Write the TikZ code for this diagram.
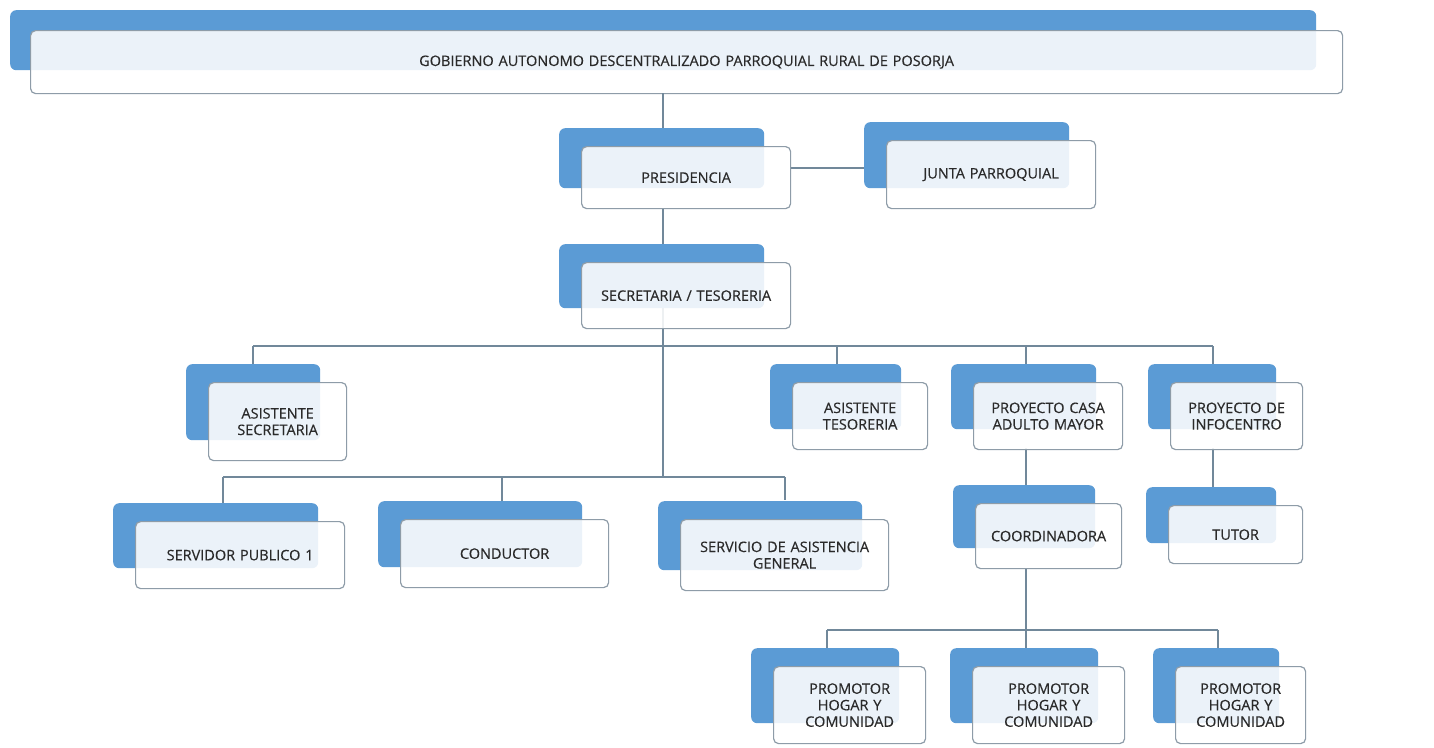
\documentclass[tikz,border=0pt]{standalone}
\usepackage{fontspec}
\setmainfont{Open Sans}
\newfontfamily\boxfont[FakeBold=0.35]{Open Sans}
\definecolor{boxblue}{HTML}{5B9BD5}
\definecolor{boxedge}{HTML}{8E9CA8}
\definecolor{linkcol}{HTML}{71889A}
\definecolor{txtcol}{HTML}{2A2A2A}
\tikzset{
  backbox/.style={fill=boxblue, draw=none, rounded corners=6pt, inner sep=0pt, anchor=north west},
  frontbox/.style={fill=white, fill opacity=0.88, text opacity=1, draw=boxedge, draw opacity=1,
    line width=1.2pt, rounded corners=5pt, inner sep=2pt, anchor=north west,
    align=center, text=txtcol, font=\boxfont\fontsize{14.5}{16.5}\selectfont},
  link/.style={draw=linkcol, line width=1.4pt}
}
\newcommand{\orgnode}[6]{%
  \pgfmathsetmacro\ow{#4-#2}%
  \pgfmathsetmacro\oh{#5-#3}%
  \node[backbox, minimum width={(\ow-4)*1pt}, minimum height={(\oh-2)*1pt}] (#1-b) at (#2-22,#3-18) {};
  \node[frontbox, minimum width={\ow*1pt}, minimum height={\oh*1pt}, text width={(\ow-8)*1pt}] (#1) at (#2,#3) {#6};
}
\begin{document}
\begin{tikzpicture}[x=1pt,y=-1pt]
\useasboundingbox[fill=white] (0,0) rectangle (1434,747);
% top
\node[backbox, minimum width=1306pt, minimum height=60pt] (top-b) at (10,10) {};
\node[frontbox, minimum width=1312pt, minimum height=63pt, text width=1290pt] (top) at (30,30) {GOBIERNO AUTONOMO DESCENTRALIZADO PARROQUIAL RURAL DE POSORJA};
% coordinates for connector positions
\coordinate (c0) at (663,93);
\coordinate (bus1) at (663,346);
\coordinate (bus2) at (663,477);
\coordinate (bus3) at (1026,630);
\coordinate (d1) at (253,346);
\coordinate (d2) at (837,346);
\coordinate (d3) at (1026,346);
\coordinate (d4) at (1213,346);
\coordinate (e1) at (223,477);
\coordinate (e2) at (502,477);
\coordinate (e3) at (785,477);
\coordinate (f1) at (827,630);
\coordinate (f3) at (1218,630);
% connectors (drawn below boxes)
\draw[link] (c0) -- (c0 |- 0,146);
\draw[link] (c0 |- 0,208) -- (bus2);
\draw[link] (790,168) -- (886,168);
\draw[link] (d1) -- (d4);
\draw[link] (d1) -- (253,365);
\draw[link] (d2) -- (837,365);
\draw[link] (d3) -- (1026,365);
\draw[link] (d4) -- (1213,365);
\draw[link] (e1) -- (e3);
\draw[link] (e1) -- (223,503);
\draw[link] (e2) -- (502,501);
\draw[link] (e3) -- (785,500);
\draw[link] (1026,448) -- (1026,486);
\draw[link] (1213,448) -- (1213,489);
\draw[link] (1026,568) -- (bus3);
\draw[link] (f1) -- (f3);
\draw[link] (f1) -- (827,650);
\draw[link] (bus3) -- (1026,650);
\draw[link] (f3) -- (1218,650);
% boxes
\orgnode{pres}{581}{146}{790}{208}{PRESIDENCIA}
\orgnode{junta}{886}{140}{1095}{208}{JUNTA PARROQUIAL}
\orgnode{sec}{581}{262}{790}{328}{SECRETARIA / TESORERIA}
\orgnode{asec}{208}{382}{346}{460}{ASISTENTE\\SECRETARIA}
\orgnode{ates}{792}{382}{927}{449}{ASISTENTE\\TESORERIA}
\orgnode{casa}{973}{382}{1122}{449}{PROYECTO CASA\\ADULTO MAYOR}
\orgnode{info}{1170}{382}{1302}{449}{PROYECTO DE\\INFOCENTRO}
\orgnode{serv}{135}{521}{344}{588}{SERVIDOR PUBLICO 1}
\orgnode{cond}{400}{519}{608}{587}{CONDUCTOR}
\orgnode{sag}{680}{519}{888}{590}{SERVICIO DE ASISTENCIA\\GENERAL}
\orgnode{coord}{975}{503}{1121}{568}{COORDINADORA}
\orgnode{tutor}{1168}{505}{1302}{563}{TUTOR}
\orgnode{pa}{773}{666}{925}{743}{PROMOTOR\\HOGAR Y\\COMUNIDAD}
\orgnode{pb}{972}{666}{1124}{743}{PROMOTOR\\HOGAR Y\\COMUNIDAD}
\orgnode{pc}{1175}{666}{1305}{743}{PROMOTOR\\HOGAR Y\\COMUNIDAD}
\end{tikzpicture}
\end{document}
